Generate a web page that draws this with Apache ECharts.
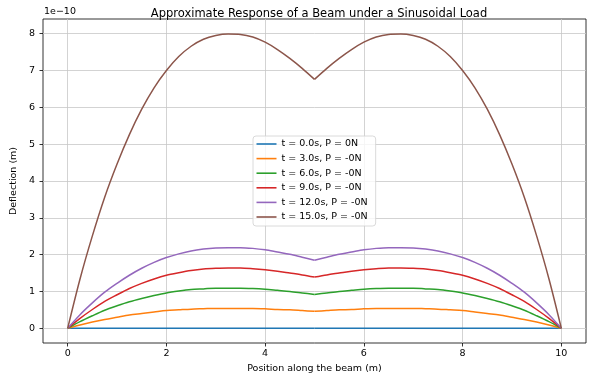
<!DOCTYPE html>
<html>
<head>
<meta charset="utf-8">
<script src="https://cdn.jsdelivr.net/npm/echarts@6/dist/echarts.min.js"></script>
<style>
  html, body { margin: 0; padding: 0; background: #fff; }
  #chart { width: 592px; height: 381px; }
</style>
</head>
<body>
<div id="chart"></div>
<script>
// positions along the beam (m)
const positions = [0, 0.25, 0.5, 0.75, 1, 1.25, 1.5, 1.75, 2, 2.25, 2.5, 2.75, 3, 3.25, 3.5, 3.75, 4, 4.25, 4.5, 4.75, 5,
  5.25, 5.5, 5.75, 6, 6.25, 6.5, 6.75, 7, 7.25, 7.5, 7.75, 8, 8.25, 8.5, 8.75, 9, 9.25, 9.5, 9.75, 10]

// deflections, in units of 1e-10 m
const defl0 = [0, 0, 0, 0, 0, 0, 0, 0, 0, 0, 0, 0, 0, 0, 0, 0, 0, 0, 0, 0, 0,
  0, 0, 0, 0, 0, 0, 0, 0, 0, 0, 0, 0, 0, 0, 0, 0, 0, 0, 0, 0]
const defl3 = [0, 0.09, 0.17, 0.24, 0.30, 0.36, 0.40, 0.44, 0.48, 0.50, 0.52, 0.53, 0.54, 0.54, 0.54, 0.54, 0.53, 0.51, 0.50, 0.48, 0.46,
  0.48, 0.50, 0.51, 0.53, 0.54, 0.54, 0.54, 0.54, 0.53, 0.52, 0.50, 0.48, 0.44, 0.40, 0.36, 0.30, 0.24, 0.17, 0.09, 0]
const defl6 = [0, 0.18, 0.34, 0.49, 0.61, 0.72, 0.81, 0.89, 0.96, 1.01, 1.05, 1.07, 1.09, 1.09, 1.09, 1.08, 1.06, 1.03, 1.00, 0.96, 0.92,
  0.96, 1.00, 1.03, 1.06, 1.08, 1.09, 1.09, 1.09, 1.07, 1.05, 1.01, 0.96, 0.89, 0.81, 0.72, 0.61, 0.49, 0.34, 0.18, 0]
const defl9 = [0, 0.27, 0.51, 0.73, 0.91, 1.08, 1.22, 1.34, 1.44, 1.51, 1.57, 1.61, 1.63, 1.64, 1.64, 1.62, 1.59, 1.55, 1.50, 1.45, 1.39,
  1.45, 1.50, 1.55, 1.59, 1.62, 1.64, 1.64, 1.63, 1.61, 1.57, 1.51, 1.44, 1.34, 1.22, 1.08, 0.91, 0.73, 0.51, 0.27, 0]
const defl12 = [0, 0.37, 0.69, 0.98, 1.22, 1.44, 1.63, 1.79, 1.92, 2.02, 2.10, 2.15, 2.18, 2.19, 2.19, 2.17, 2.13, 2.07, 2.01, 1.93, 1.85,
  1.93, 2.01, 2.07, 2.13, 2.17, 2.19, 2.19, 2.18, 2.15, 2.10, 2.02, 1.92, 1.79, 1.63, 1.44, 1.22, 0.98, 0.69, 0.37, 0]
const defl15 = [0, 1.34, 2.51, 3.56, 4.46, 5.26, 5.95, 6.53, 7.0, 7.38, 7.66, 7.85, 7.95, 7.99, 7.98, 7.91, 7.77, 7.57, 7.33, 7.06, 6.76,
  7.06, 7.33, 7.57, 7.77, 7.91, 7.98, 7.99, 7.95, 7.85, 7.66, 7.38, 7.0, 6.53, 5.95, 5.26, 4.46, 3.56, 2.51, 1.34, 0]

const seriesNames = ['t = 0.0s, P = 0N', 't = 3.0s, P = -0N', 't = 6.0s, P = -0N',
  't = 9.0s, P = -0N', 't = 12.0s, P = -0N', 't = 15.0s, P = -0N']
const seriesValues = [defl0, defl3, defl6, defl9, defl12, defl15]

const xTicks = [0, 2, 4, 6, 8, 10]
const yTicks = [0, 1, 2, 3, 4, 5, 6, 7, 8]

const colors = ['#1f77b4', '#ff7f0e', '#2ca02c', '#d62728', '#9467bd', '#8c564b']
const font = 'DejaVu Sans'

// the load sits at mid-span, so each curve has a kink there: draw the two halves separately
const midIdx = positions.indexOf(5)

const chart = echarts.init(document.getElementById('chart'))

const series = []
seriesNames.forEach((name, i) => {
  const pts = positions.map((x, j) => [x, seriesValues[i][j]])
  const halves = [pts.slice(0, midIdx + 1), pts.slice(midIdx)]
  halves.forEach(data => {
    series.push({
      name,
      type: 'line',
      data,
      showSymbol: false,
      smooth: 0.3,
      lineStyle: { width: 1.5, color: colors[i] },
      itemStyle: { color: colors[i] },
      z: 2 + i
    })
  })
})

const option = {
  animation: false,
  title: {
    text: 'Approximate Response of a Beam under a Sinusoidal Load',
    left: 314, top: 3, textAlign: 'center',
    textStyle: { fontFamily: font, fontSize: 11.5, fontWeight: 'normal', color: '#000' }
  },
  graphic: [{
    type: 'text', left: 44, top: 7,
    style: { text: '1e\u221210', font: '9.5px "DejaVu Sans"', fill: '#000' }
  }],
  grid: {
    left: 43, top: 19, right: 6, bottom: 38,
    show: true, borderColor: '#000', borderWidth: 0.8, backgroundColor: 'transparent'
  },
  legend: {
    orient: 'vertical',
    left: 253, top: 136,
    data: seriesNames,
    icon: 'rect',
    itemWidth: 20, itemHeight: 1.6,
    itemGap: 2.6,
    padding: [2, 8, 3, 3.5],
    backgroundColor: 'rgba(255,255,255,0.8)',
    borderColor: '#d0d0d0', borderWidth: 0.8, borderRadius: 3,
    textStyle: { fontFamily: font, fontSize: 9.5, color: '#000', lineHeight: 12 }
  },
  xAxis: {
    type: 'value', min: -0.5, max: 10.5,
    name: 'Position along the beam (m)', nameLocation: 'middle', nameGap: 21,
    nameTextStyle: { fontFamily: font, fontSize: 9.5, color: '#000' },
    axisLine: { show: false, onZero: false },
    axisTick: { show: true, inside: false, customValues: xTicks, length: 3.5, lineStyle: { color: '#000', width: 0.8 } },
    axisLabel: { customValues: xTicks, margin: 6, fontFamily: font, fontSize: 9.5, color: '#000' },
    splitLine: { show: true, customValues: xTicks, lineStyle: { color: '#c8c8c8', width: 0.8 } }
  },
  yAxis: {
    type: 'value', min: -0.4, max: 8.4,
    name: 'Deflection (m)', nameLocation: 'middle', nameGap: 18,
    nameTextStyle: { fontFamily: font, fontSize: 9.5, color: '#000' },
    axisLine: { show: false, onZero: false },
    axisTick: { show: true, inside: false, customValues: yTicks, length: 3.5, lineStyle: { color: '#000', width: 0.8 } },
    axisLabel: { customValues: yTicks, margin: 8, fontFamily: font, fontSize: 9.5, color: '#000' },
    splitLine: { show: true, customValues: yTicks, lineStyle: { color: '#c8c8c8', width: 0.8 } }
  },
  series
}

chart.setOption(option)
</script>
</body>
</html>
